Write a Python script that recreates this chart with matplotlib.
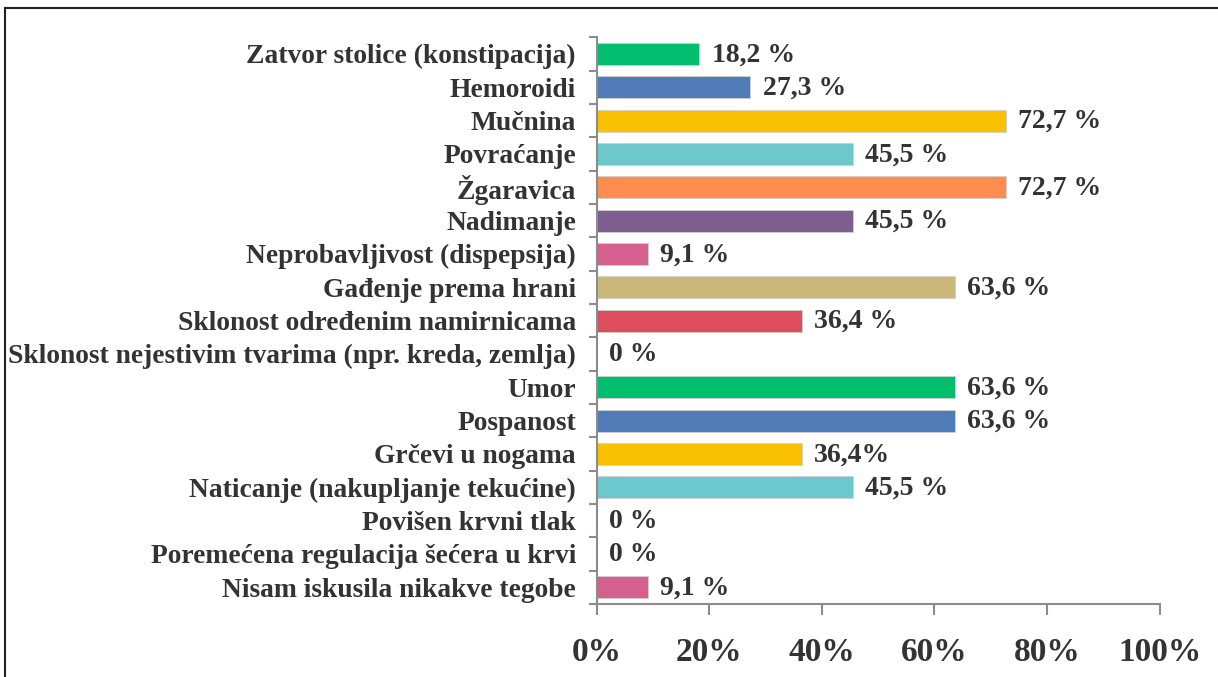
import matplotlib.pyplot as plt
from matplotlib.lines import Line2D

# DATA
categories = [
    "Zatvor stolice (konstipacija)",
    "Hemoroidi",
    "Mučnina",
    "Povraćanje",
    "Žgaravica",
    "Nadimanje",
    "Neprobavljivost (dispepsija)",
    "Gađenje prema hrani",
    "Sklonost određenim namirnicama",
    "Sklonost nejestivim tvarima (npr. kreda, zemlja)",
    "Umor",
    "Pospanost",
    "Grčevi u nogama",
    "Naticanje (nakupljanje tekućine)",
    "Povišen krvni tlak",
    "Poremećena regulacija šećera u krvi",
    "Nisam iskusila nikakve tegobe",
]
values = [18.2, 27.3, 72.7, 45.5, 72.7, 45.5, 9.1, 63.6, 36.4, 0,
          63.6, 63.6, 36.4, 45.5, 0, 0, 9.1]
value_labels = ["18,2 %", "27,3 %", "72,7 %", "45,5 %", "72,7 %", "45,5 %",
                "9,1 %", "63,6 %", "36,4 %", "0 %", "63,6 %", "63,6 %",
                "36,4%", "45,5 %", "0 %", "0 %", "9,1 %"]
colors = ["#00BE6E", "#4F7CB6", "#F8C000", "#6CC8CC", "#FF8C50", "#7E5E8E",
          "#D56090", "#C8B87A", "#DC4E5E", "#00BE6E", "#00BE6E", "#4F7CB6",
          "#F8C000", "#6CC8CC", "#7E5E8E", "#D56090", "#D56090"]
xticks = [0, 20, 40, 60, 80, 100]
xtick_labels = ["0%", "20%", "40%", "60%", "80%", "100%"]

plt.rcParams['font.family'] = ['Liberation Serif', 'DejaVu Serif']
plt.rcParams['font.weight'] = 'bold'
txt = '#333333'
axcol = '#8c8c8c'

fig = plt.figure(figsize=(12.18, 6.77), dpi=100)
ax = fig.add_axes([0.490, 0.108, 0.462, 0.837])

n = len(categories)
ypos = list(range(n))
ax.barh(ypos, values, height=0.66, color=colors, edgecolor='#d0d0d0', linewidth=0.6)
for y, v, lab in zip(ypos, values, value_labels):
    ax.text(v + 2.2, y + 0.03, lab, va='center', ha='left', fontsize=20,
            fontweight='bold', color=txt)

ax.set_xlim(0, 100)
ax.set_ylim(n - 0.5, -0.5)
ax.set_xticks(xticks)
ax.set_xticklabels(xtick_labels, fontsize=24, fontweight='bold', color=txt)
ax.set_yticks(ypos)
ax.set_yticklabels(categories, fontsize=19.8, fontweight='bold', color=txt)
ax.tick_params(axis='y', length=0, pad=15)
ax.set_yticks([i - 0.5 for i in range(n + 1)], minor=True)
ax.tick_params(axis='y', which='minor', length=6, color=axcol, width=1.5)
ax.tick_params(axis='x', length=8, color=axcol, width=1.5, pad=16)

for s in ['top', 'right']:
    ax.spines[s].set_visible(False)
for s in ['left', 'bottom']:
    ax.spines[s].set_color(axcol)
    ax.spines[s].set_linewidth(1.5)

# outer frame (top and left edges of the original box)
fig.add_artist(Line2D([5 / 1218, 1], [1 - 8 / 677, 1 - 8 / 677],
                      transform=fig.transFigure, color='#222222', lw=1.5))
fig.add_artist(Line2D([5 / 1218, 5 / 1218], [0, 1 - 8 / 677],
                      transform=fig.transFigure, color='#222222', lw=1.5))

fig.savefig('out.png', dpi=100)
